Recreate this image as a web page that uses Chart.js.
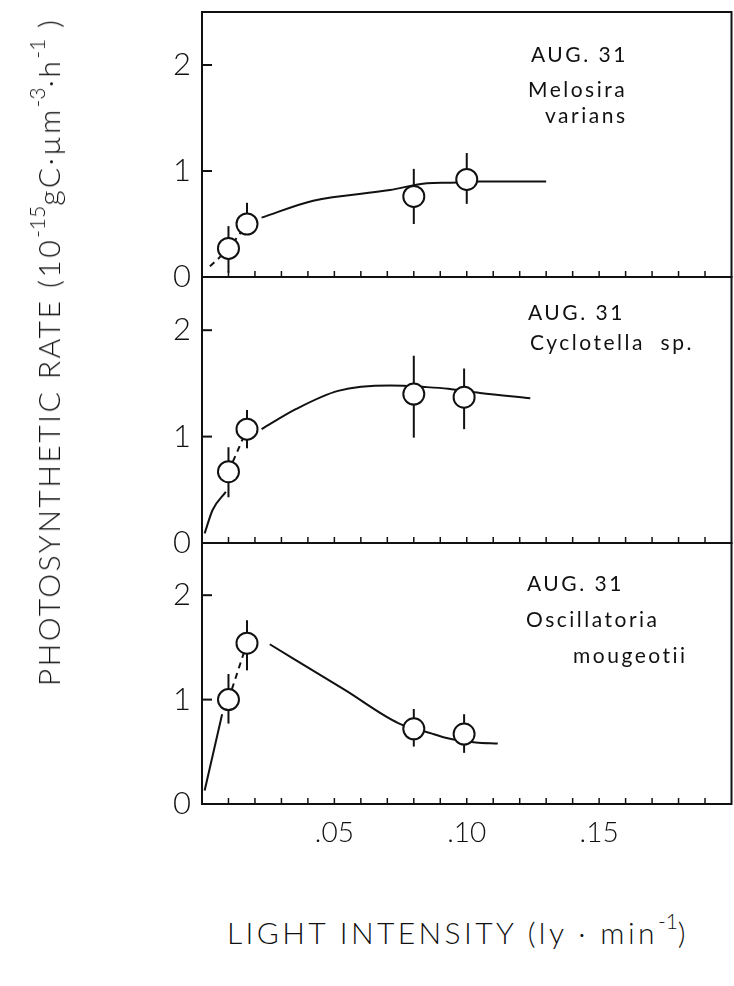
<!DOCTYPE html>
<html>
<head>
<meta charset="utf-8">
<script src="https://cdn.jsdelivr.net/npm/chart.js@4.4.0/dist/chart.umd.min.js"></script>
<style>
  html, body { margin: 0; padding: 0; background: #fff; }
  #wrap { position: relative; width: 734px; height: 986px; overflow: hidden; background: #fff; }
  #wrap canvas { position: absolute; left: 0; }
  .ttl { position: absolute; white-space: nowrap; font-family: Lato, "DejaVu Sans", sans-serif; font-weight: 300; color: #111; line-height: 1; }
  .ttl sup { font-size: 70%; vertical-align: 0.7em; line-height: 0; letter-spacing: 0; }
  #ytitle { left: 48px; top: 352px; font-size: 30px; letter-spacing: 2.5px; transform: translate(-50%, -50%) rotate(-90deg); }
  #xtitle { left: 458px; top: 932px; font-size: 30px; letter-spacing: 3.4px; transform: translate(-50%, -50%); }
</style>
</head>
<body>
<div id="wrap">
  <canvas id="c1"></canvas>
  <canvas id="c2"></canvas>
  <canvas id="c3"></canvas>
  <div class="ttl" id="ytitle">PHOTOSYNTHETIC RATE (10<sup>-15</sup>gC·µm<sup>-3</sup>·h<sup>-1</sup> )</div>
  <div class="ttl" id="xtitle">LIGHT INTENSITY (ly · min<sup>-1</sup>)</div>
</div>
<script>
// --- DATA (light intensity ly/min, rate 10^-15 gC/µm3/h) ---
// Melosira varians
const melX  = [0.010, 0.017, 0.080, 0.100];
const melY  = [0.27, 0.50, 0.76, 0.92];
const melLo = [0.04, 0.42, 0.50, 0.69];
const melHi = [0.48, 0.70, 1.02, 1.17];
const melLinkX = [0.003, 0.010, 0.017];
const melLinkY = [0.10, 0.27, 0.50];
const melFitX = [0.0225, 0.042, 0.071, 0.085, 0.093, 0.105, 0.130];
const melFitY = [0.56, 0.72, 0.82, 0.885, 0.89, 0.90, 0.90];

// Cyclotella sp.
const cycX  = [0.010, 0.017, 0.080, 0.099];
const cycY  = [0.67, 1.07, 1.40, 1.37];
const cycLo = [0.43, 0.89, 0.99, 1.07];
const cycHi = [0.90, 1.25, 1.76, 1.64];
const cycRiseX = [0.001, 0.004, 0.009];
const cycRiseY = [0.09, 0.31, 0.48];
const cycLinkX = [0.010, 0.017];
const cycLinkY = [0.67, 1.07];
const cycFitX = [0.0225, 0.0356, 0.0514, 0.0711, 0.085, 0.093, 0.105, 0.124];
const cycFitY = [1.07, 1.26, 1.43, 1.48, 1.465, 1.45, 1.41, 1.36];

// Oscillatoria mougeotii
const oscX  = [0.010, 0.017, 0.080, 0.099];
const oscY  = [1.00, 1.54, 0.72, 0.67];
const oscLo = [0.77, 1.28, 0.55, 0.49];
const oscHi = [1.245, 1.76, 0.91, 0.86];
const oscRiseX = [0.001, 0.0076];
const oscRiseY = [0.13, 0.86];
const oscLinkX = [0.010, 0.017];
const oscLinkY = [1.00, 1.54];
const oscFitX = [0.0256, 0.0541, 0.0741, 0.0861, 0.092, 0.1034, 0.1117];
const oscFitY = [1.53, 1.09, 0.775, 0.68, 0.635, 0.59, 0.58];

const yTicks = [0, 1, 2];
const labelsMel = ["AUG. 31", "Melosira", "varians"];
const labelsCyc = ["AUG. 31", "Cyclotella  sp."];
const labelsOsc = ["AUG. 31", "Oscillatoria", "mougeotii"];

// --- LAYOUT ---
// chart.js keeps ~12px right padding for the x labels, so canvases are a bit wider than the page
const INK = '#111';
const PLOT_LEFT = 202, PLOT_RIGHT = 732, PAD = 32, X_PAD = 12;
const panels = [
  { id: 'c1', top: 12, bottom: 277 },
  { id: 'c2', top: 277, bottom: 543 },
  { id: 'c3', top: 543, bottom: 804 }
];

function pts(xs, ys) { return xs.map((x, i) => ({ x, y: ys[i] })); }

// frame, inward ticks, error bars, panel captions
const framePlugin = {
  id: 'frame',
  beforeDatasetsDraw(chart, args, opts) {
    const { ctx, chartArea: a, scales: { x, y } } = chart;
    ctx.save();
    ctx.strokeStyle = INK;
    ctx.lineCap = 'butt';
    ctx.lineWidth = 1.5;
    x.ticks.forEach(t => {
      if (t.value <= 1e-6 || t.value >= 0.2 - 1e-6) return;
      const px = x.getPixelForValue(t.value);
      ctx.beginPath(); ctx.moveTo(px, a.bottom); ctx.lineTo(px, a.bottom - 6); ctx.stroke();
    });
    ctx.lineWidth = 2;
    y.ticks.forEach(t => {
      if (t.value <= 0) return;
      const py = y.getPixelForValue(t.value);
      ctx.beginPath(); ctx.moveTo(a.left, py); ctx.lineTo(a.left + 10, py); ctx.stroke();
    });
    ctx.strokeRect(a.left, a.top, a.right - a.left, a.bottom - a.top);
    // error bars
    ctx.lineWidth = 2;
    opts.xs.forEach((xv, i) => {
      const px = x.getPixelForValue(xv);
      ctx.beginPath();
      ctx.moveTo(px, y.getPixelForValue(opts.lo[i]));
      ctx.lineTo(px, y.getPixelForValue(opts.hi[i]));
      ctx.stroke();
    });
    ctx.restore();
  },
  afterDraw(chart, args, opts) {
    const { ctx } = chart;
    ctx.save();
    ctx.fillStyle = INK;
    ctx.font = '400 21px Lato, "DejaVu Sans", sans-serif';
    ctx.textBaseline = 'alphabetic';
    if ('letterSpacing' in ctx) ctx.letterSpacing = '2.5px';
    opts.texts.forEach((s, i) => {
      const p = opts.pos[i];
      ctx.fillText(s, p[0], p[1] - opts.offset);
    });
    ctx.restore();
  }
};

function makePanel(idx, xs, ys, lo, hi, curves, texts, textPos) {
  const p = panels[idx];
  const last = idx === panels.length - 1;
  const xAxisH = last ? 48 : 0;
  const canvasTop = p.top - PAD;
  const w = PLOT_RIGHT + X_PAD;
  const h = PAD + (p.bottom - p.top) + (last ? xAxisH : PAD);
  const cv = document.getElementById(p.id);
  cv.width = w; cv.height = h;
  cv.style.top = canvasTop + 'px';
  cv.style.width = w + 'px'; cv.style.height = h + 'px';

  const datasets = [{
    label: 'measured',
    data: pts(xs, ys),
    showLine: false,
    pointRadius: 10.5,
    pointHoverRadius: 10.5,
    pointBorderWidth: 2,
    pointBackgroundColor: '#fff',
    pointBorderColor: INK,
    order: 0
  }];
  curves.forEach(c => datasets.push({
    label: c.name,
    data: pts(c.x, c.y),
    showLine: true,
    borderColor: INK,
    borderWidth: 2,
    borderDash: c.dash ? [6, 5] : [],
    pointRadius: 0,
    cubicInterpolationMode: 'monotone',
    fill: false,
    order: 2
  }));

  return new Chart(cv, {
    type: 'scatter',
    data: { datasets },
    plugins: [framePlugin],
    options: {
      responsive: false,
      animation: false,
      events: [],
      layout: { padding: { top: PAD, left: 0, right: X_PAD, bottom: last ? 0 : PAD } },
      plugins: {
        legend: { display: false },
        tooltip: { enabled: false },
        frame: { xs, lo, hi, texts, pos: textPos, offset: canvasTop }
      },
      scales: {
        x: {
          type: 'linear', min: 0, max: 0.2,
          display: last,
          grid: { display: false, drawTicks: false },
          border: { display: false },
          afterFit: s => { s.height = xAxisH; },
          ticks: {
            stepSize: 0.01, includeBounds: false, autoSkip: false, maxRotation: 0,
            padding: X_PAD, color: INK,
            font: { family: 'Lato', size: 28, weight: '300' },
            callback: v => {
              const k = Math.round(v * 100);
              return (k > 0 && k < 20 && k % 5 === 0) ? '.' + String(k).padStart(2, '0') : '';
            }
          }
        },
        y: {
          type: 'linear', min: 0, max: 2.5,
          grid: { display: false, drawTicks: false },
          border: { display: false },
          afterFit: s => { s.width = PLOT_LEFT; },
          afterBuildTicks: s => { s.ticks = yTicks.map(v => ({ value: v })); },
          ticks: {
            padding: 11, color: INK,
            font: { family: 'Lato', size: 31, weight: '300' }
          }
        }
      }
    }
  });
}

makePanel(0, melX, melY, melLo, melHi, [
  { name: 'rise', x: melLinkX, y: melLinkY, dash: true },
  { name: 'fit', x: melFitX, y: melFitY }
], labelsMel, [[531, 62], [528, 97], [545, 123]]);

makePanel(1, cycX, cycY, cycLo, cycHi, [
  { name: 'rise', x: cycRiseX, y: cycRiseY },
  { name: 'link', x: cycLinkX, y: cycLinkY, dash: true },
  { name: 'fit', x: cycFitX, y: cycFitY }
], labelsCyc, [[528, 320], [530, 350]]);

makePanel(2, oscX, oscY, oscLo, oscHi, [
  { name: 'rise', x: oscRiseX, y: oscRiseY },
  { name: 'link', x: oscLinkX, y: oscLinkY, dash: true },
  { name: 'fit', x: oscFitX, y: oscFitY }
], labelsOsc, [[527, 591], [526, 627], [573, 663]]);
</script>
</body>
</html>
